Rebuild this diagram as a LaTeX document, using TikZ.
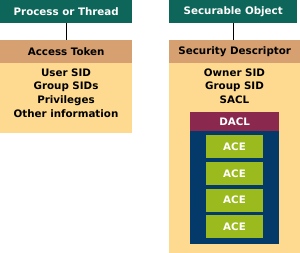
\documentclass[tikz,border=0pt]{standalone}
\usepackage{fontspec}
\setmainfont{DejaVu Sans}
\usetikzlibrary{positioning}
\definecolor{headgreen}{RGB}{14,102,90}
\definecolor{tokentan}{RGB}{214,160,112}
\definecolor{paleyellow}{RGB}{253,218,143}
\definecolor{daclred}{RGB}{138,40,78}
\definecolor{daclblue}{RGB}{4,58,106}
\definecolor{acegreen}{RGB}{155,186,30}

\begin{document}
\begin{tikzpicture}[x=1pt, y=-1pt,
            boxfont/.style={font=\bfseries\fontsize{10.3}{13.7}\selectfont},
            titlebox/.style={rectangle, fill=headgreen, text=white, boxfont, inner sep=0pt, anchor=north west, minimum height=22.7pt},
            headbox/.style={rectangle, fill=tokentan, text=black, boxfont, inner sep=0pt, anchor=north west, minimum height=23pt},
            bodybox/.style={rectangle, fill=paleyellow, inner sep=0pt, anchor=north west},
            infotext/.style={boxfont, align=center, inner sep=0pt, anchor=north},
            acebox/.style={rectangle, fill=acegreen, text=white, boxfont, inner sep=0pt, minimum width=57pt, minimum height=23pt}]
            \useasboundingbox (0,0) rectangle (300,253);
            % process side
            \node [titlebox, minimum width=132pt] (proc) at (0,0) {Process or Thread};
            \node [bodybox, minimum width=132pt, minimum height=70pt] (tokenbody) at (0,63) {};
            \node [headbox, minimum width=132pt] (token) at (0,40) {Access Token};
            \node [infotext] (tokeninfo) at (66,68.3) {User SID\\Group SIDs\\Privileges\\Other information};
            \draw [line width=1.2pt] (proc.south) -- (token.north);
            % object side
            \node [titlebox, minimum width=128pt] (obj) at (169,0) {Securable Object};
            \node [bodybox, minimum width=131pt, minimum height=190pt] (secbody) at (169,63) {};
            \node [headbox, minimum width=131pt] (secdesc) at (169,40) {Security Descriptor};
            \node [infotext] (secinfo) at (234.5,68.3) {Owner SID\\Group SID\\SACL};
            \draw [line width=1.2pt] (obj.south) -- (obj.south |- secdesc.north);
            % dacl
            \node [rectangle, fill=daclblue, inner sep=0pt, anchor=north west, minimum width=89pt, minimum height=113pt] (daclbody) at (190,131) {};
            \node [rectangle, fill=daclred, text=white, boxfont, inner sep=0pt, anchor=north west, minimum width=89pt, minimum height=19pt] (dacl) at (190,112) {DACL};
            \node [acebox, anchor=north] (ace1) at (234.5,135) {ACE};
            \foreach \i/\j in {1/2, 2/3, 3/4}
              \node [acebox, below=3.3pt of ace\i] (ace\j) {ACE};
        \end{tikzpicture}
\end{document}
